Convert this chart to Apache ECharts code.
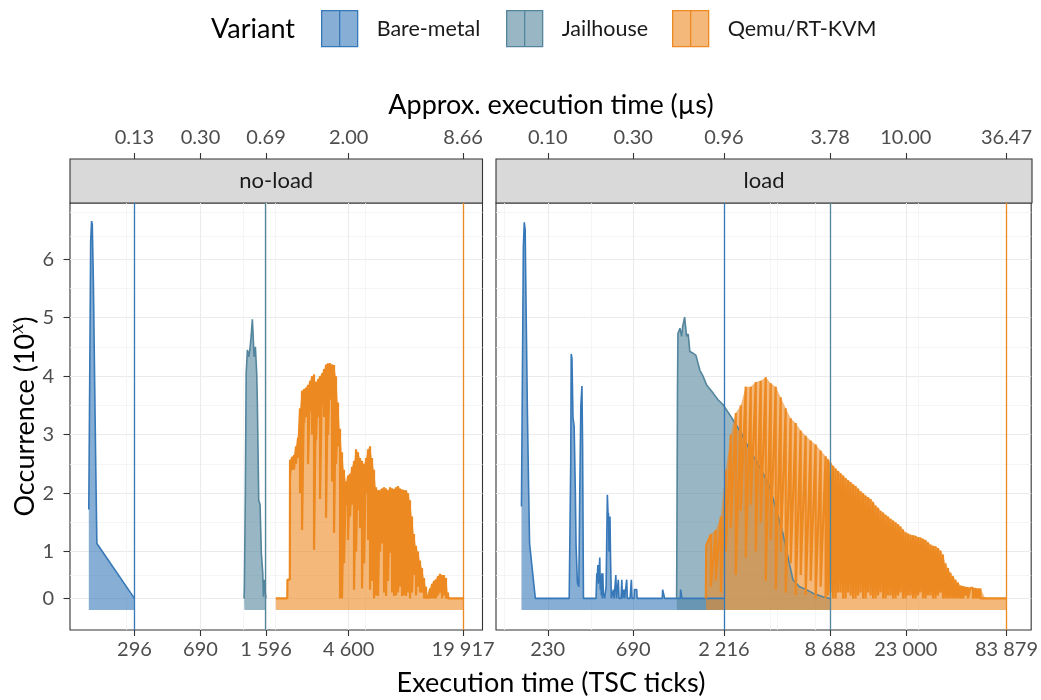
<!DOCTYPE html>
<html>
<head>
<meta charset="utf-8">
<title>Execution time distribution</title>
<script src="https://cdn.jsdelivr.net/npm/echarts@6/dist/echarts.min.js"></script>
<style>
  html, body { margin: 0; padding: 0; background: #fff; }
  #chart { width: 1041px; height: 700px; }
</style>
</head>
<body>
<div id="chart"></div>
<script>
const FONT = 'Lato';

const variants = ['Bare-metal', 'Jailhouse', 'Qemu/RT-KVM'];
const lineColors = ['#3778B8', '#53859D', '#ED8921'];
const fillColors = ['rgba(55,120,184,0.6)', 'rgba(83,133,157,0.6)', 'rgba(237,137,33,0.6)'];
const panels = ['no-load', 'load'];

// axis breaks: TSC ticks at the bottom, approx. µs on top
const noLoadTicks = [296, 690, 1596, 4600, 19917];
const noLoadUs = ['0.13', '0.30', '0.69', '2.00', '8.66'];
const loadTicks = [230, 690, 2216, 8688, 23000, 83879];
const loadUs = ['0.10', '0.30', '0.96', '3.78', '10.00', '36.47'];
const noLoadMinor = [268, 1185, 1791, 5663];
const loadMinor = [132, 400, 4045, 4385, 7178, 27100];
const noLoadRange = [129.7, 25530];
const loadRange = [118.2, 115300];

// occurrence axis (10^x)
const yTickPos = [0.2, 1, 2, 3, 4, 5, 6];
const yTickLabels = ['0', '1', '2', '3', '4', '5', '6'];
const yMinor = [0.6, 1.5, 2.5, 3.5, 4.5, 5.5, 6.4, 6.8];
const yRange = [-0.34, 6.96];

// maximum execution time per variant (vertical lines)
const noLoadMax = [296, 1596, 19917];
const loadMax = [2216, 8688, 83879];

// [ticks, occurrence]
const bareNoLoad = [[165,1.72],[167,4.0],[169,6.3],[171,6.65],[172.5,6.6],[175,5.6],[178,3.8],[180.5,2.4],[183,1.14],[296,0.2]];
const jailNoLoad = [[1205,0.2],[1210,0.4],[1225,2.0],[1238,4.05],[1258,4.45],[1281,4.33],[1301,4.48],[1321,4.7],[1340,4.97],[1357,4.62],[1369,4.33],[1393,4.5],[1417,4.05],[1428,3.59],[1454,1.88],[1479,1.8],[1504,0.97],[1531,0.63],[1543,0.23],[1563,0.52],[1576,0.5],[1586,0.25],[1596,0.2]];

// qemu histograms: bin position, upper value, lower value of the jagged comb
const qemuNoLoadTicks = [1808,2095,2100,2165,
  2171,2227,2285,2344,2405,2467,2532,2598,2665,2734,2805,2878,2952,3028,3107,3187,3271,3356,3443,3532,3623,3717,3814,3913,4014,4118,4225,4334,4447,4562,4681,4802,4927,5055,5186,5320,5459,5600,5746,5895,6047,6204,6365,6530,6700,6873,7052,7235,7422,7614,7812,8014,8223,8436,8655,8879,9110,9346,9589,9837,10090,10351,10620,10895,11180,11470,11770,12075,12390,12711,13040,13378,13720,14075,14440,14814,15200,15594,16000,16414,16840,19917];
const qemuNoLoadTop = [0.2,0.2,0.52,0.52,
  2.57,2.62,2.65,2.8,2.95,3.45,3.75,3.78,3.8,3.85,3.92,4.0,4.03,3.9,3.95,4.0,4.05,4.12,4.2,4.22,4.22,4.2,4.19,4.0,3.55,3.1,2.7,2.4,2.2,2.3,2.33,2.45,2.55,2.75,2.7,2.6,2.55,2.5,2.6,2.75,2.8,2.6,2.4,2.1,2.05,2.05,2.08,2.1,2.08,2.05,2.1,2.08,2.07,2.1,2.12,2.08,2.06,2.05,2.05,2.0,1.88,1.6,1.3,1.1,1.0,0.85,0.72,0.55,0.4,0.25,0.37,0.45,0.5,0.52,0.58,0.62,0.6,0.6,0.55,0.3,0.2,0.2];
const qemuNoLoadLow = [0.2,0.2,0.52,0.52,
  2.3,2.4,2.4,2.5,2.6,2.0,1.37,3.2,3.3,2.5,3.4,3.0,1.03,2.9,3.3,1.9,3.5,3.3,1.58,3.0,3.6,2.2,1.32,2.5,2.8,0.2,0.2,0.8,1.8,1.2,1.6,1.8,0.35,1.0,1.71,1.4,0.37,0.8,2.0,1.2,0.35,0.5,0.2,0.25,0.24,1.0,1.14,0.3,0.24,0.5,0.98,0.3,0.24,0.25,0.3,0.4,0.24,0.25,0.24,0.3,0.2,0.3,0.6,0.25,0.4,0.3,0.3,0.2,0.2,0.2,0.2,0.2,0.2,0.2,0.25,0.3,0.2,0.25,0.2,0.2,0.2,0.2];

const bareLoad = [[164,1.77],[166,4.0],[168,6.2],[170,6.63],[172,6.5],[174,5.2],[177,3.4],[180,2.0],[182,1.14],[196,0.2],[303,0.2],[309,2.5],[311,4.38],[314,4.3],[318,3.3],[323,3.14],[328,2.0],[331,1.1],[337,0.46],[343,0.4],[347,2.0],[352,3.5],[357,3.83],[360,2.8],[364,0.2],[428,0.2],[432,0.63],[435,0.55],[438,0.77],[441,0.45],[444,0.6],[449,0.9],[452,0.35],[455,0.6],[458,0.25],[461,0.63],[464,0.2],[467,0.63],[470,0.3],[478,0.2],[481,0.2],[487,0.4],[495,1.97],[500,1.6],[502,1.66],[506,1.0],[508,0.97],[512,1.6],[515,1.0],[521,0.2],[530,0.2],[535,0.35],[540,0.2],[546,0.2],[552,0.6],[557,0.2],[565,0.2],[570,0.52],[575,0.2],[590,0.2],[596,0.52],[602,0.2],[608,0.2],[613,0.35],[618,0.2],[630,0.2],[635,0.52],[640,0.2],[663,0.2],[674,0.52],[680,0.2],[698,0.2],[701,0.35],[712,0.35],[722,0.35],[726,0.2],[760,0.2],[1003,0.2],[1008,0.35],[1030,0.35],[1034,0.2],[1264,0.2],[1270,0.35],[1285,0.35],[1291,0.2],[2216,0.2]];
const jailLoad = [[1206,0.2],[1212,1.5],[1220,3.8],[1227,4.73],[1243,4.7],[1259,4.82],[1286,4.68],[1303,4.84],[1337,5.01],[1372,4.68],[1400,4.72],[1430,4.42],[1493,4.39],[1545,4.36],[1627,4.1],[1700,3.99],[1773,3.85],[1850,3.78],[1929,3.71],[2050,3.6],[2193,3.51],[2340,3.38],[2494,3.25],[2777,3.02],[3089,2.74],[3512,2.45],[3993,2.11],[4351,1.71],[4736,1.31],[5050,0.91],[5383,0.52],[5866,0.4],[6400,0.35],[6959,0.29],[7912,0.23],[8688,0.2]];

const qemuLoadTicks = [1757,1765,1873,1997,2130,2271,2421,2582,2753,2935,3130,3337,3559,3795,4046,4315,4601,4906,5231,5578,5948,6343,6763,7212,7690,8200,
  8467,8744,9029,9323,9627,9942,10266,10601,10947,11304,11673,12054,12447,12854,13273,13706,14153,14615,15091,15585,16093,16618,17160,17720,18298,18896,19512,20149,20806,21485,22185,22910,23657,24430,25226,26050,26899,27777,28682,29619,30585,31584,32614,33678,34776,35912,37083,38293,39541,40833,42164,43541,44961,46428,47942,49507,51121,52791,54512,56292,58127,60025,64006,83879];
const qemuLoadTop = [0.2,1.1,1.3,1.37,1.6,2.4,3.0,3.37,3.5,3.82,3.82,3.9,3.92,3.98,3.88,3.82,3.64,3.45,3.28,3.2,3.07,2.98,2.9,2.83,2.73,2.63,
  2.58,2.52,2.47,2.42,2.38,2.34,2.3,2.26,2.22,2.19,2.15,2.12,2.08,2.03,2.0,1.96,1.93,1.9,1.85,1.79,1.75,1.7,1.67,1.63,1.6,1.56,1.53,1.5,1.47,1.43,1.38,1.33,1.31,1.29,1.28,1.27,1.25,1.24,1.22,1.2,1.16,1.12,1.1,1.09,1.06,1.02,0.95,0.8,0.72,0.64,0.58,0.52,0.47,0.42,0.41,0.4,0.39,0.38,0.38,0.38,0.37,0.37,0.2,0.2];
const qemuLoadLow = [0.2,1.1,0.4,0.5,0.3,1.0,1.4,0.6,1.7,0.9,1.8,1.0,1.5,0.5,1.2,0.35,1.0,0.3,0.8,0.25,0.6,0.25,0.5,0.2,0.4,0.2,
  0.25,0.3,0.2,0.2,0.3,0.3,0.2,0.2,0.3,0.25,0.2,0.2,0.25,0.3,0.2,0.2,0.3,0.25,0.2,0.2,0.25,0.3,0.2,0.2,0.25,0.25,0.2,0.2,0.25,0.3,0.2,0.2,0.25,0.25,0.2,0.2,0.25,0.3,0.2,0.2,0.25,0.25,0.2,0.2,0.25,0.3,0.2,0.2,0.2,0.2,0.2,0.2,0.2,0.2,0.2,0.25,0.2,0.37,0.2,0.2,0.2,0.2,0.2,0.2];

// ---- layout
const GRID_TOP = 203, GRID_H = 427, STRIP_H = 44;
const P = [{ left: 70, width: 412.5 }, { left: 496, width: 536 }];
const TICK_FONT = 20;

const spaced = n => String(n).replace(/\B(?=(\d{3})+(?!\d))/g, ' ');
const nearest = (arr, v) => {
  let best = 0;
  arr.forEach((a, i) => { if (Math.abs(a - v) < Math.abs(arr[best] - v)) best = i; });
  return best;
};
const lg = pts => pts.map(p => [Math.log10(p[0]), p[1]]);

function xAxesFor(g, range, ticks, us, minor) {
  const vals = ticks.map(t => Math.log10(t));
  const mvals = minor.map(t => Math.log10(t));
  const min = Math.log10(range[0]), max = Math.log10(range[1]);
  return [
    {
      type: 'value', gridIndex: g, position: 'bottom', min, max,
      axisLine: { show: false, onZero: false },
      axisTick: { show: true, customValues: vals, length: 6, lineStyle: { color: '#333', width: 1.1 } },
      axisLabel: { customValues: vals, margin: 10, color: '#4D4D4D', fontSize: TICK_FONT, fontFamily: FONT,
        formatter: v => spaced(ticks[nearest(vals, v)]) },
      splitLine: { show: true, lineStyle: { color: '#EBEBEB', width: 1.1 } }
    },
    {
      type: 'value', gridIndex: g, position: 'top', offset: STRIP_H, min, max,
      axisLine: { show: false, onZero: false },
      axisTick: { show: true, customValues: vals, length: 6, lineStyle: { color: '#333', width: 1.1 } },
      axisLabel: { customValues: vals, margin: 11, color: '#4D4D4D', fontSize: TICK_FONT, fontFamily: FONT,
        formatter: v => us[nearest(vals, v)] },
      splitLine: { show: false }
    },
    {
      type: 'value', gridIndex: g, position: 'bottom', min, max,
      axisLine: { show: false, onZero: false },
      axisTick: { show: false, customValues: mvals },
      axisLabel: { show: false, customValues: mvals },
      splitLine: { show: true, lineStyle: { color: '#F2F2F2', width: 0.8 } }
    }
  ];
}

function yAxesFor(g) {
  const first = g === 0;
  return [
    {
      type: 'value', gridIndex: g, position: 'left', min: yRange[0], max: yRange[1],
      axisLine: { show: false, onZero: false },
      axisTick: { show: first, customValues: yTickPos, length: 6.5, lineStyle: { color: '#333', width: 1.1 } },
      axisLabel: { show: first, customValues: yTickPos, margin: 16, color: '#4D4D4D', fontSize: TICK_FONT, fontFamily: FONT,
        formatter: v => yTickLabels[nearest(yTickPos, v)] },
      splitLine: { show: true, lineStyle: { color: '#EBEBEB', width: 1.1 } }
    },
    {
      type: 'value', gridIndex: g, position: 'right', min: yRange[0], max: yRange[1],
      axisLine: { show: false, onZero: false },
      axisTick: { show: false, customValues: yMinor },
      axisLabel: { show: false, customValues: yMinor },
      splitLine: { show: true, lineStyle: { color: '#F2F2F2', width: 0.8 } }
    }
  ];
}

function vline(tick, i) {
  return {
    silent: true, symbol: ['none', 'none'], label: { show: false },
    lineStyle: { color: lineColors[i], width: 1.3, type: 'solid' },
    data: [{ xAxis: Math.log10(tick) }]
  };
}

// filled histogram with its outline
function filled(p, i, pts, maxTick) {
  return {
    type: 'line', name: variants[i], xAxisIndex: p * 3, yAxisIndex: p * 2,
    data: lg(pts), showSymbol: false, symbol: 'none',
    lineStyle: { color: lineColors[i], width: 1.6 },
    itemStyle: { color: lineColors[i] },
    areaStyle: { color: fillColors[i], opacity: 1 },
    markLine: vline(maxTick, i)
  };
}

// qemu: area under the upper values, comb line between upper and lower
function comb(p, ticks, top, low, maxTick) {
  const env = ticks.map((t, k) => [t, top[k]]);
  const jag = [];
  ticks.forEach((t, k) => {
    jag.push([t, top[k]]);
    if (low[k] !== top[k]) jag.push([t, low[k]]);
  });
  return [
    {
      type: 'line', name: variants[2], xAxisIndex: p * 3, yAxisIndex: p * 2,
      data: lg(env), showSymbol: false, symbol: 'none',
      lineStyle: { width: 0, opacity: 0 },
      itemStyle: { color: lineColors[2] },
      areaStyle: { color: fillColors[2], opacity: 1 }
    },
    {
      type: 'line', name: variants[2], xAxisIndex: p * 3, yAxisIndex: p * 2,
      data: lg(jag), showSymbol: false, symbol: 'none',
      lineStyle: { color: lineColors[2], width: 2.2 },
      itemStyle: { color: lineColors[2] },
      markLine: vline(maxTick, 2)
    }
  ];
}

const series = [
  filled(0, 0, bareNoLoad, noLoadMax[0]),
  filled(0, 1, jailNoLoad, noLoadMax[1]),
  ...comb(0, qemuNoLoadTicks, qemuNoLoadTop, qemuNoLoadLow, noLoadMax[2]),
  filled(1, 0, bareLoad, loadMax[0]),
  filled(1, 1, jailLoad, loadMax[1]),
  ...comb(1, qemuLoadTicks, qemuLoadTop, qemuLoadLow, loadMax[2])
];

const KEY_ICON = 'path://M0,0H36V36H0Z M18,0V36';
const legendLeft = [321, 506, 672];

const strips = panels.map((name, k) => ({
  type: 'group',
  children: [
    { type: 'rect', shape: { x: P[k].left, y: GRID_TOP - STRIP_H, width: P[k].width, height: STRIP_H },
      style: { fill: '#D9D9D9', stroke: '#333333', lineWidth: 1.1 } },
    { type: 'text', x: P[k].left + P[k].width / 2, y: GRID_TOP - STRIP_H / 2,
      style: { text: name, fill: '#1A1A1A', fontSize: 22, fontFamily: FONT, textAlign: 'center', textVerticalAlign: 'middle' } }
  ]
}));

const midX = (P[0].left + P[1].left + P[1].width) / 2;

const option = {
  animation: false,
  backgroundColor: '#ffffff',
  textStyle: { fontFamily: FONT },
  grid: P.map(p => ({
    left: p.left, top: GRID_TOP, width: p.width, height: GRID_H,
    show: true, borderColor: '#333333', borderWidth: 1.1, backgroundColor: 'transparent'
  })),
  xAxis: [
    ...xAxesFor(0, noLoadRange, noLoadTicks, noLoadUs, noLoadMinor),
    ...xAxesFor(1, loadRange, loadTicks, loadUs, loadMinor)
  ],
  yAxis: [...yAxesFor(0), ...yAxesFor(1)],
  legend: variants.map((v, i) => ({
    left: legendLeft[i], top: 10, padding: 0, itemWidth: 36, itemHeight: 36, selectedMode: false,
    textStyle: { fontSize: 21.5, color: '#1A1A1A', fontFamily: FONT, padding: [0, 0, 0, 14] },
    data: [{
      name: v, icon: KEY_ICON,
      itemStyle: { color: fillColors[i], borderColor: lineColors[i], borderWidth: 1.3 }
    }]
  })),
  graphic: [
    ...strips,
    { type: 'text', x: 211, y: 29,
      style: { text: 'Variant', fill: '#000', fontSize: 27, fontFamily: FONT, textAlign: 'left', textVerticalAlign: 'middle' } },
    { type: 'text', x: midX, y: 105,
      style: { text: 'Approx. execution time (µs)', fill: '#000', fontSize: 27, fontFamily: FONT, textAlign: 'center', textVerticalAlign: 'middle' } },
    { type: 'text', x: midX, y: 683,
      style: { text: 'Execution time (TSC ticks)', fill: '#000', fontSize: 27, fontFamily: FONT, textAlign: 'center', textVerticalAlign: 'middle' } },
    { type: 'text', x: 25, y: GRID_TOP + GRID_H / 2, rotation: Math.PI / 2,
      style: {
        text: '{t|Occurrence (10}{s|x}{t|)}', textAlign: 'center', textVerticalAlign: 'middle',
        rich: {
          t: { fontSize: 27, fontFamily: FONT, fill: '#000', lineHeight: 32 },
          s: { fontSize: 18, fontFamily: 'DejaVu Serif', fontStyle: 'italic', fill: '#000', verticalAlign: 'top', lineHeight: 20 }
        }
      } }
  ],
  series
};

const chart = echarts.init(document.getElementById('chart'), null, { renderer: 'canvas' });
chart.setOption(option);
</script>
</body>
</html>
